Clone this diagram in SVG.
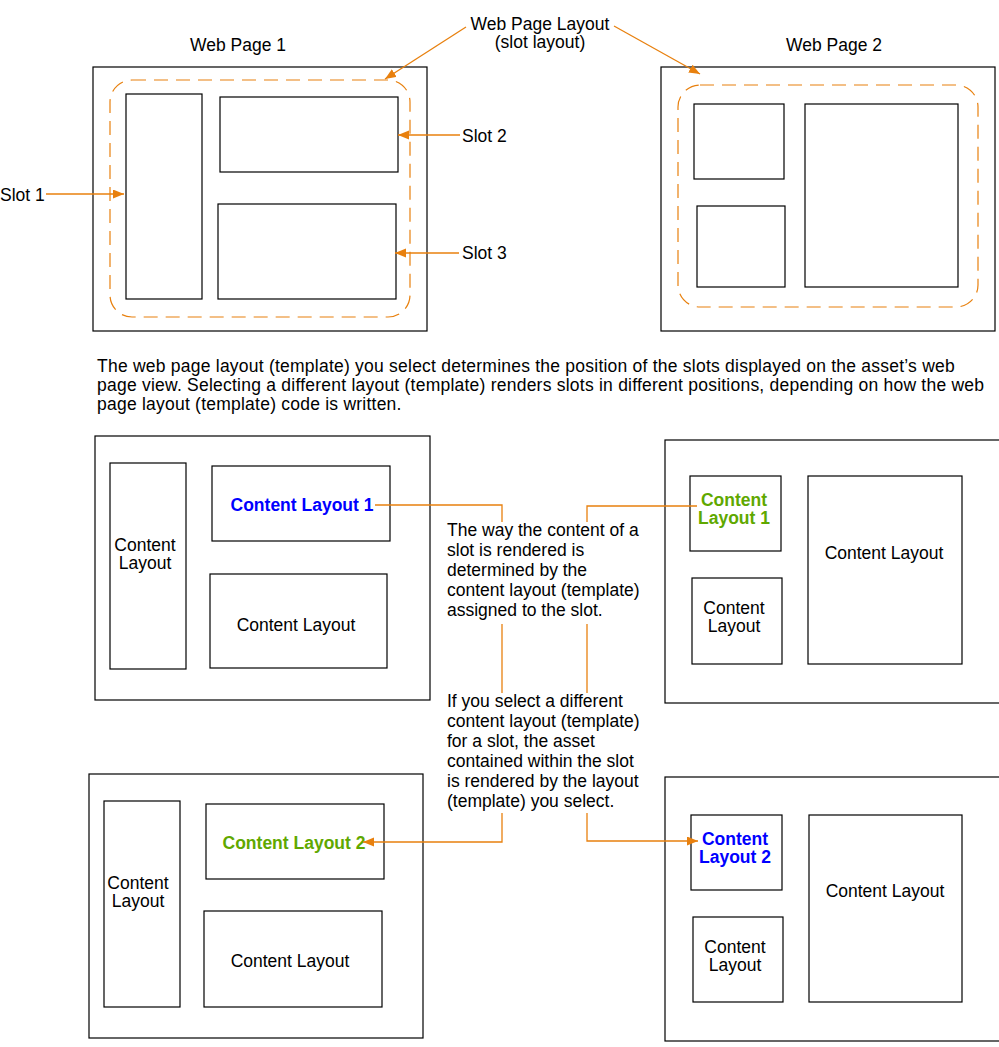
<svg xmlns="http://www.w3.org/2000/svg" width="999" height="1047" viewBox="0 0 999 1047">
<defs>
<marker id="ah" markerUnits="userSpaceOnUse" markerWidth="12" markerHeight="10" refX="11" refY="4.5" orient="auto">
<path d="M0,0 L11,4.5 L0,9 z" fill="#E8800E"/>
</marker>
<style>
.box{fill:#fff;stroke:#000;stroke-width:1.2}
.dash{fill:none;stroke:#E8800E;stroke-width:1.2;stroke-dasharray:14 8}
.con{fill:none;stroke:#E8800E;stroke-width:1.3}
.arr{fill:none;stroke:#E8800E;stroke-width:1.3;marker-end:url(#ah)}
text{font-family:"Liberation Sans",Arial,sans-serif;font-size:17.5px;fill:#000}
.c{text-anchor:middle}
.b{font-weight:bold}
.blue{fill:#0000FF}
.green{fill:#5FA800}
.p{letter-spacing:0.23px}
</style>
</defs>
<rect width="999" height="1047" fill="#fff"/>

<g id="titles">
<text class="c" x="238" y="51">Web Page 1</text>
<text class="c" x="834" y="51">Web Page 2</text>
<text class="c" x="540" y="30">Web Page Layout</text>
<text class="c" x="540" y="48">(slot layout)</text>
<text x="0" y="201">Slot 1</text>
<text x="462" y="142">Slot 2</text>
<text x="462" y="259">Slot 3</text>
</g>

<g id="webpage1">
<rect class="box" x="93" y="67" width="334" height="264"/>
<rect class="dash" x="110" y="80" width="300" height="237" rx="22"/>
<rect class="box" x="126" y="94" width="76" height="205"/>
<rect class="box" x="220" y="97" width="178" height="75"/>
<rect class="box" x="218" y="204" width="178" height="95"/>
</g>

<g id="webpage2">
<rect class="box" x="661" y="67" width="334" height="264"/>
<rect class="dash" x="678" y="85" width="300" height="222" rx="22"/>
<rect class="box" x="694" y="104" width="90" height="75"/>
<rect class="box" x="697" y="206" width="88" height="81"/>
<rect class="box" x="805" y="104" width="153" height="183"/>
</g>

<g id="paragraph">
<text class="p" x="97" y="372">The web page layout (template) you select determines the position of the slots displayed on the asset’s web</text>
<text class="p" x="97" y="391">page view. Selecting a different layout (template) renders slots in different positions, depending on how the web</text>
<text class="p" x="97" y="410">page layout (template) code is written.</text>
</g>

<g id="page-a">
<rect class="box" x="95" y="436" width="335" height="264"/>
<rect class="box" x="110" y="463" width="76" height="206"/>
<text class="c" x="145" y="551">Content</text>
<text class="c" x="145" y="569">Layout</text>
<rect class="box" x="212" y="466" width="178" height="75"/>
<text class="c b blue" x="302" y="511">Content Layout 1</text>
<rect class="box" x="210" y="574" width="177" height="94"/>
<text class="c" x="296" y="631">Content Layout</text>
</g>

<g id="page-b">
<rect class="box" x="665" y="440" width="340" height="263"/>
<rect class="box" x="690" y="476" width="91" height="75"/>
<text class="c b green" x="734" y="506">Content</text>
<text class="c b green" x="734" y="524">Layout 1</text>
<rect class="box" x="692" y="578" width="90" height="86"/>
<text class="c" x="734" y="614">Content</text>
<text class="c" x="734" y="632">Layout</text>
<rect class="box" x="808" y="476" width="154" height="188"/>
<text class="c" x="884" y="559">Content Layout</text>
</g>

<g id="page-c">
<rect class="box" x="89" y="774" width="334" height="264"/>
<rect class="box" x="104" y="801" width="76" height="206"/>
<text class="c" x="138" y="889">Content</text>
<text class="c" x="138" y="907">Layout</text>
<rect class="box" x="206" y="804" width="178" height="75"/>
<text class="c b green" x="294" y="849">Content Layout 2</text>
<rect class="box" x="204" y="911" width="178" height="96"/>
<text class="c" x="290" y="967">Content Layout</text>
</g>

<g id="page-d">
<rect class="box" x="665" y="777" width="340" height="264"/>
<rect class="box" x="691" y="815" width="91" height="75"/>
<text class="c b blue" x="735" y="845">Content</text>
<text class="c b blue" x="735" y="863">Layout 2</text>
<rect class="box" x="693" y="917" width="90" height="85"/>
<text class="c" x="735" y="953">Content</text>
<text class="c" x="735" y="971">Layout</text>
<rect class="box" x="809" y="815" width="153" height="187"/>
<text class="c" x="885" y="897">Content Layout</text>
</g>

<g id="notes">
<text x="447" y="536">The way the content of a</text>
<text x="447" y="556">slot is rendered is</text>
<text x="447" y="576">determined by the</text>
<text x="447" y="596">content layout (template)</text>
<text x="447" y="616">assigned to the slot.</text>
<text x="447" y="707">If you select a different</text>
<text x="447" y="727">content layout (template)</text>
<text x="447" y="747">for a slot, the asset</text>
<text x="447" y="767">contained within the slot</text>
<text x="447" y="787">is rendered by the layout</text>
<text x="447" y="807">(template) you select.</text>
</g>

<g id="connectors">
<line class="arr" x1="46" y1="194" x2="124" y2="194"/>
<line class="arr" x1="460" y1="135" x2="398" y2="135"/>
<line class="arr" x1="459" y1="253" x2="395" y2="253"/>
<line class="arr" x1="466" y1="27" x2="385" y2="79"/>
<line class="arr" x1="614" y1="26" x2="700" y2="74"/>
<polyline class="con" points="375,505 502,505 502,522"/>
<polyline class="con" points="587,522 587,506 697,506"/>
<line class="con" x1="502" y1="624" x2="502" y2="693"/>
<line class="con" x1="587" y1="624" x2="587" y2="693"/>
<polyline class="arr" points="502,813 502,842 363,842"/>
<polyline class="arr" points="587,813 587,841 698,841"/>
</g>
</svg>
